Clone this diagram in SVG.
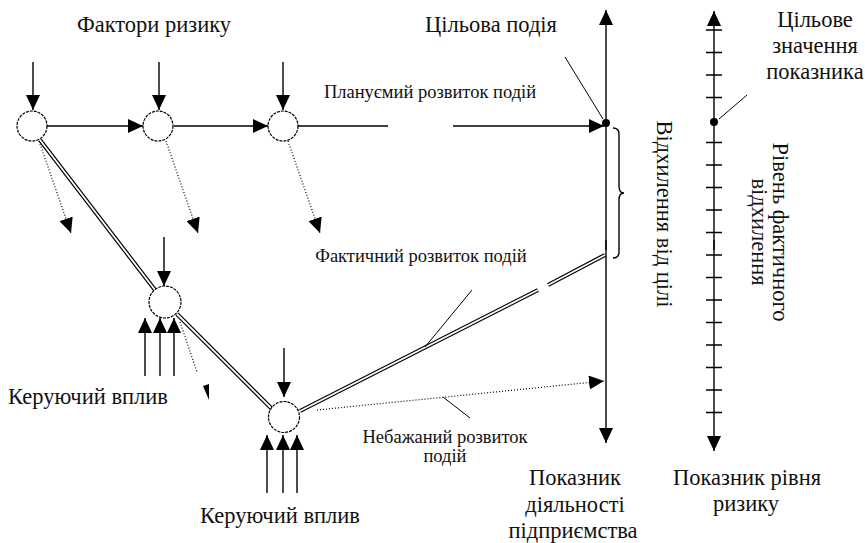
<svg xmlns="http://www.w3.org/2000/svg" width="865" height="543" viewBox="0 0 865 543">
<defs>
<marker id="ah" markerUnits="userSpaceOnUse" markerWidth="16" markerHeight="14" refX="15" refY="7" orient="auto">
<path d="M0,0 L15,7 L0,14 Z" fill="#000"/>
</marker>
</defs>
<style>
.tb{font-size:22.5px}
.ts{font-size:18.5px}
.ln{stroke:#000;stroke-width:1.4;fill:none}
.ar{stroke:#000;stroke-width:1.4;fill:none;marker-end:url(#ah)}
.dot{stroke:#000;stroke-width:1.2;stroke-dasharray:1 2;fill:none}
.dar{stroke:#000;stroke-width:1.2;stroke-dasharray:1 2;fill:none;marker-end:url(#ah)}
.dbo{stroke:#000;stroke-width:4.2;fill:none}
.dbi{stroke:#fff;stroke-width:1.8;fill:none}
.nd{fill:#fff;stroke:#000;stroke-width:1.2;stroke-dasharray:3 1}
.thin{stroke:#000;stroke-width:1;fill:none}
</style>

<g id="connectors">
<line class="ar" x1="33" y1="62" x2="33" y2="110"/>
<line class="ar" x1="159" y1="62" x2="159" y2="110"/>
<line class="ar" x1="283" y1="62" x2="283" y2="110"/>
<line class="ar" x1="47" y1="126" x2="143" y2="126"/>
<line class="ar" x1="174" y1="126" x2="268" y2="126"/>
<line class="ln" x1="298" y1="126" x2="388" y2="126"/>
<line class="ar" x1="453" y1="126" x2="604" y2="126"/>
<line class="dar" x1="39" y1="141" x2="71" y2="233"/>
<line class="dar" x1="166" y1="141" x2="198" y2="233"/>
<line class="dar" x1="288" y1="141" x2="320" y2="233"/>
<line class="dbo" x1="40" y1="140" x2="155" y2="290"/>
<line class="dbi" x1="40" y1="140" x2="155" y2="290"/>
<line class="dbo" x1="177" y1="314" x2="272" y2="409"/>
<line class="dbi" x1="177" y1="314" x2="272" y2="409"/>
<line class="dbo" x1="300" y1="411" x2="538" y2="290"/>
<line class="dbi" x1="300" y1="411" x2="538" y2="290"/>
<line class="dbo" x1="548" y1="285" x2="605" y2="255"/>
<line class="dbi" x1="548" y1="285" x2="605" y2="255"/>
<line class="ar" x1="164" y1="237" x2="164" y2="286"/>
<line class="ar" x1="145" y1="376" x2="145" y2="318"/>
<line class="ar" x1="160" y1="376" x2="160" y2="318"/>
<line class="ar" x1="174" y1="376" x2="174" y2="318"/>
<line class="dot" x1="180" y1="322" x2="197" y2="372"/>
<path d="M203,386 L209,384 L209,400 Z" fill="#000"/>
<line class="ar" x1="284" y1="348" x2="284" y2="397"/>
<line class="ar" x1="267" y1="493" x2="267" y2="435"/>
<line class="ar" x1="283" y1="493" x2="283" y2="435"/>
<line class="ar" x1="297" y1="493" x2="297" y2="435"/>
<line class="dar" x1="317" y1="410" x2="604" y2="381"/>
<line class="thin" x1="565" y1="57" x2="603" y2="119"/>
<line class="thin" x1="472" y1="290" x2="425" y2="347"/>
<line class="thin" x1="443" y1="397" x2="470" y2="418"/>
<line class="thin" x1="719" y1="119" x2="747" y2="95"/>
<line class="ar" x1="606" y1="250" x2="606" y2="10"/>
<line class="ar" x1="606" y1="240" x2="606" y2="443"/>
<circle cx="606" cy="123" r="4" fill="#000"/>
<path class="ln" d="M613,128 Q619,128 619,134 L619,186 Q619,193 624,193 Q619,193 619,200 L619,252 Q619,258 613,258"/>
<line class="ar" x1="714" y1="250" x2="714" y2="11"/>
<line class="ar" x1="714" y1="240" x2="714" y2="451"/>
<path class="ln" d="M706,30H722M706,52.5H722M706,75H722M706,97.5H722M706,142.5H722M706,165H722M706,187.5H722M706,210H722M706,232.5H722M706,255H722M706,277.5H722M706,300H722M706,322.5H722M706,345H722M706,367.5H722M706,390H722M706,412.5H722"/>
<circle cx="714" cy="122" r="4" fill="#000"/>
</g>

<g id="node1"><circle class="nd" cx="32" cy="126" r="15"/></g>
<g id="node2"><circle class="nd" cx="158" cy="126" r="15"/></g>
<g id="node3"><circle class="nd" cx="283" cy="126" r="15"/></g>
<g id="node4"><circle class="nd" cx="165" cy="302" r="16"/></g>
<g id="node5"><circle class="nd" cx="284" cy="417" r="15.5"/></g>

<g id="labels" font-family="'Liberation Serif', 'DejaVu Serif', serif" fill="#111">
<text class="tb" x="154" y="32" text-anchor="middle">Фактори ризику</text>
<text class="tb" x="491" y="32" text-anchor="middle">Цільова подія</text>
<text class="ts" x="430" y="98" text-anchor="middle">Плануємий розвиток подій</text>
<text class="ts" x="421" y="262" text-anchor="middle">Фактичний розвиток подій</text>
<text class="ts" x="445" y="443" text-anchor="middle">Небажаний розвиток</text>
<text class="ts" x="445" y="462" text-anchor="middle">подій</text>
<text class="tb" x="88" y="404" text-anchor="middle">Керуючий вплив</text>
<text class="tb" x="280" y="523" text-anchor="middle">Керуючий вплив</text>
<text class="tb" x="575" y="485" text-anchor="middle">Показник</text>
<text class="tb" x="575" y="511.5" text-anchor="middle">діяльності</text>
<text class="tb" x="573" y="538" text-anchor="middle">підприємства</text>
<text class="tb" x="747" y="485" text-anchor="middle">Показник рівня</text>
<text class="tb" x="746" y="511" text-anchor="middle">ризику</text>
<text class="tb" x="815" y="27" text-anchor="middle">Цільове</text>
<text class="tb" x="815" y="53" text-anchor="middle">значення</text>
<text class="tb" x="815" y="79" text-anchor="middle">показника</text>
<text class="tb" transform="translate(657,214) rotate(90)" text-anchor="middle">Відхилення від цілі</text>
<text class="tb" transform="translate(773,232) rotate(90)" text-anchor="middle">Рівень фактичного</text>
<text class="tb" transform="translate(752,232) rotate(90)" text-anchor="middle">відхилення</text>
</g>
</svg>
